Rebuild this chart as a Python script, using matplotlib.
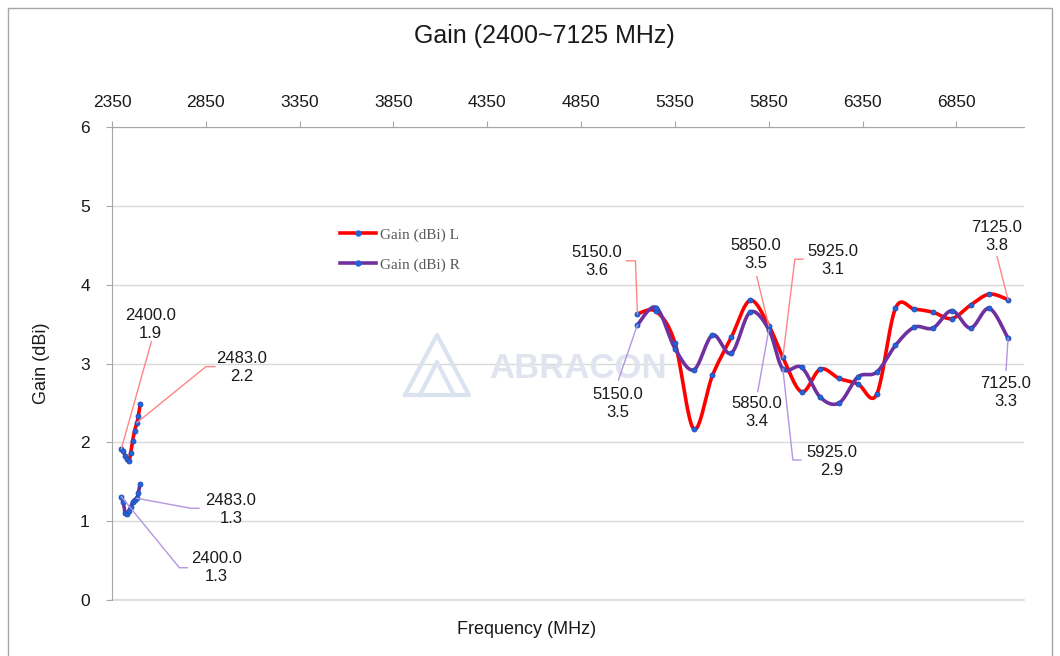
import numpy as np
import matplotlib.pyplot as plt
from matplotlib.lines import Line2D
from matplotlib.patches import Rectangle
from matplotlib.transforms import IdentityTransform

# band 1 (2.4 GHz) and band 2 (5-7 GHz) measurements
freq_24 = [2400, 2410, 2420, 2430, 2440, 2450, 2460, 2470, 2483, 2490, 2500]
gain_L_24 = [1.92, 1.89, 1.83, 1.79, 1.76, 1.87, 2.02, 2.14, 2.25, 2.33, 2.48]
gain_R_24 = [1.31, 1.24, 1.10, 1.09, 1.13, 1.18, 1.24, 1.27, 1.29, 1.36, 1.47]

freq_5g = [5150, 5250, 5350, 5450, 5550, 5650, 5750, 5850, 5925, 6025, 6125,
           6225, 6325, 6425, 6525, 6625, 6725, 6825, 6925, 7025, 7125]
gain_L_5g = [3.63, 3.66, 3.26, 2.17, 2.85, 3.33, 3.80, 3.48, 3.08, 2.64, 2.93,
             2.81, 2.74, 2.61, 3.70, 3.69, 3.65, 3.57, 3.74, 3.88, 3.81]
gain_R_5g = [3.49, 3.71, 3.19, 2.92, 3.36, 3.13, 3.65, 3.43, 2.93, 2.95, 2.57,
             2.50, 2.83, 2.89, 3.23, 3.46, 3.45, 3.67, 3.45, 3.70, 3.32]

x_ticks = [2350, 2850, 3350, 3850, 4350, 4850, 5350, 5850, 6350, 6850]

RED = '#ff0000'
PURPLE = '#7030a0'
DOT = '#2563d6'


# excel style smoothed line (bezier through the points)
def smooth(x, y, n=24):
    x = np.asarray(x, float)
    y = np.asarray(y, float)
    px = np.concatenate([[x[0]], x, [x[-1]]])
    py = np.concatenate([[y[0]], y, [y[-1]]])
    t = np.linspace(0, 1, n)[:, None]
    xs, ys = [], []
    for i in range(len(x) - 1):
        p0 = np.array([px[i], py[i]])
        p1 = np.array([px[i + 1], py[i + 1]])
        p2 = np.array([px[i + 2], py[i + 2]])
        p3 = np.array([px[i + 3], py[i + 3]])
        c1 = p1 + (p2 - p0) / 6
        c2 = p2 - (p3 - p1) / 6
        b = (1 - t) ** 3 * p1 + 3 * (1 - t) ** 2 * t * c1 + 3 * (1 - t) * t ** 2 * c2 + t ** 3 * p2
        xs.extend(b[:, 0])
        ys.extend(b[:, 1])
    return xs, ys


plt.rcParams['font.family'] = 'Liberation Sans'
fig = plt.figure(figsize=(10.6, 6.56), dpi=100)
ax = fig.add_axes([112 / 1060, 1 - 600 / 656, 912 / 1060, 473 / 656])
ax.set_xlim(2350, 7210)
ax.set_ylim(0, 6)

# curves
for fr, gl, gr in [(freq_24, gain_L_24, gain_R_24), (freq_5g, gain_L_5g, gain_R_5g)]:
    sx, sy = smooth(fr, gl)
    ax.plot(sx, sy, color=RED, lw=2.6, zorder=3, solid_capstyle='round')
    sx, sy = smooth(fr, gr)
    ax.plot(sx, sy, color=PURPLE, lw=2.6, zorder=3, solid_capstyle='round')
    ax.plot(fr, gl, 'o', ms=3.6, mfc=DOT, mec='#1d4fb8', mew=0.6, zorder=4)
    ax.plot(fr, gr, 'o', ms=3.6, mfc=DOT, mec='#1d4fb8', mew=0.6, zorder=4)

# axes styling
ax.xaxis.tick_top()
ax.set_xticks(x_ticks)
ax.set_yticks(range(7))
ax.tick_params(axis='x', length=4, color='#a6a6a6', pad=8, labelsize=12.5, labelcolor='#1a1a1a')
ax.tick_params(axis='y', length=4, color='#a6a6a6', pad=12, labelsize=12.5, labelcolor='#1a1a1a')
for s in ['right', 'bottom']:
    ax.spines[s].set_visible(False)
ax.spines['top'].set_color('#a6a6a6')
ax.spines['left'].set_color('#a6a6a6')
ax.grid(axis='y', color='#d9d9d9', lw=1)
ax.axhline(0, color='#d9d9d9', lw=1.2, clip_on=False, zorder=0.5)
ax.set_axisbelow(True)

# watermark
ax.text(0.414, 0.49, 'ABRACON', transform=ax.transAxes, fontsize=25, fontweight='bold',
        color='#dfe4ee', ha='left', va='center', zorder=1)
tri = [(405, 395), (437, 335), (469, 395), (405, 395)]
fig.add_artist(Line2D([p[0] for p in tri], [656 - p[1] for p in tri], transform=IdentityTransform(),
                      color='#dbe3f0', lw=3, zorder=1))
fig.add_artist(Line2D([420, 437, 454], [656 - 395, 656 - 362, 656 - 395], transform=IdentityTransform(),
                      color='#dbe3f0', lw=3, zorder=1))

# legend
handles = [Line2D([], [], color=RED, lw=2.6, marker='o', ms=3.6, mfc=DOT, mec=DOT),
           Line2D([], [], color=PURPLE, lw=2.6, marker='o', ms=3.6, mfc=DOT, mec=DOT)]
fig.legend(handles, ['Gain (dBi) L', 'Gain (dBi) R'], loc='upper left',
           bbox_to_anchor=(340 / 1060, 1 - 228 / 656), frameon=False, borderpad=0,
           borderaxespad=0, handlelength=2.35, handletextpad=0.3, labelspacing=1.05,
           numpoints=1, prop={'family': 'Liberation Serif', 'size': 11}, labelcolor='#595959')

# data labels: (freq, gain, text, color, leader path offsets px, text offset px)
labels = [
    (2400, 1.92, '2400.0\n1.9', 'L', [(30, 107)], (29, 124)),
    (2483, 2.25, '2483.0\n2.2', 'L', [(69, 56), (78, 56)], (105, 55)),
    (2483, 1.29, '2483.0\n1.3', 'R', [(54, -10), (62, -10)], (94, -11)),
    (2400, 1.31, '2400.0\n1.3', 'R', [(58, -71), (66, -71)], (95, -71)),
    (5150, 3.63, '5150.0\n3.6', 'L', [(-2, 53), (-11, 53)], (-41, 52)),
    (5150, 3.49, '5150.0\n3.5', 'R', [(-19, -55)], (-20, -79)),
    (5850, 3.48, '5850.0\n3.5', 'L', [(-12, 49)], (-13, 71)),
    (5850, 3.43, '5850.0\n3.4', 'R', [(-11, -62)], (-12, -83)),
    (5925, 3.08, '5925.0\n3.1', 'L', [(12, 98), (20, 98)], (50, 97)),
    (5925, 2.93, '5925.0\n2.9', 'R', [(10, -91), (18, -91)], (49, -92)),
    (7125, 3.81, '7125.0\n3.8', 'L', [(-11, 43)], (-11, 63)),
    (7125, 3.32, '7125.0\n3.3', 'R', [(-2, -32)], (-2, -54)),
]
lead_col = {'L': '#ff8585', 'R': '#b595e0'}
for f, g, txt, side, path, toff in labels:
    px, py = ax.transData.transform((f, g))
    xs = [px] + [px + d[0] for d in path]
    ys = [py] + [py + d[1] for d in path]
    fig.add_artist(Line2D(xs, ys, transform=IdentityTransform(), color=lead_col[side], lw=1, zorder=5))
    ax.annotate(txt, xy=(f, g), xytext=toff, textcoords='offset pixels', ha='center', va='center',
                fontsize=12, color='#1a1a1a', linespacing=1.25, zorder=6)

# titles
fig.text(544 / 1060, 1 - 36 / 656, 'Gain (2400~7125 MHz)', ha='center', va='center', fontsize=18, color='#1a1a1a')
fig.text(527 / 1060, 1 - 630 / 656, 'Frequency (MHz)', ha='center', va='center', fontsize=13, color='#1a1a1a')
fig.text(42 / 1060, 1 - 363 / 656, 'Gain (dBi)', ha='center', va='center', rotation=90, fontsize=13, color='#1a1a1a')

# chart border
fig.add_artist(Rectangle((8 / 1060, -0.01), 1044 / 1060, 1 - 8 / 656 + 0.01, transform=fig.transFigure,
                         fill=False, ec='#a6a6a6', lw=1))

fig.savefig('out.png', dpi=100)
